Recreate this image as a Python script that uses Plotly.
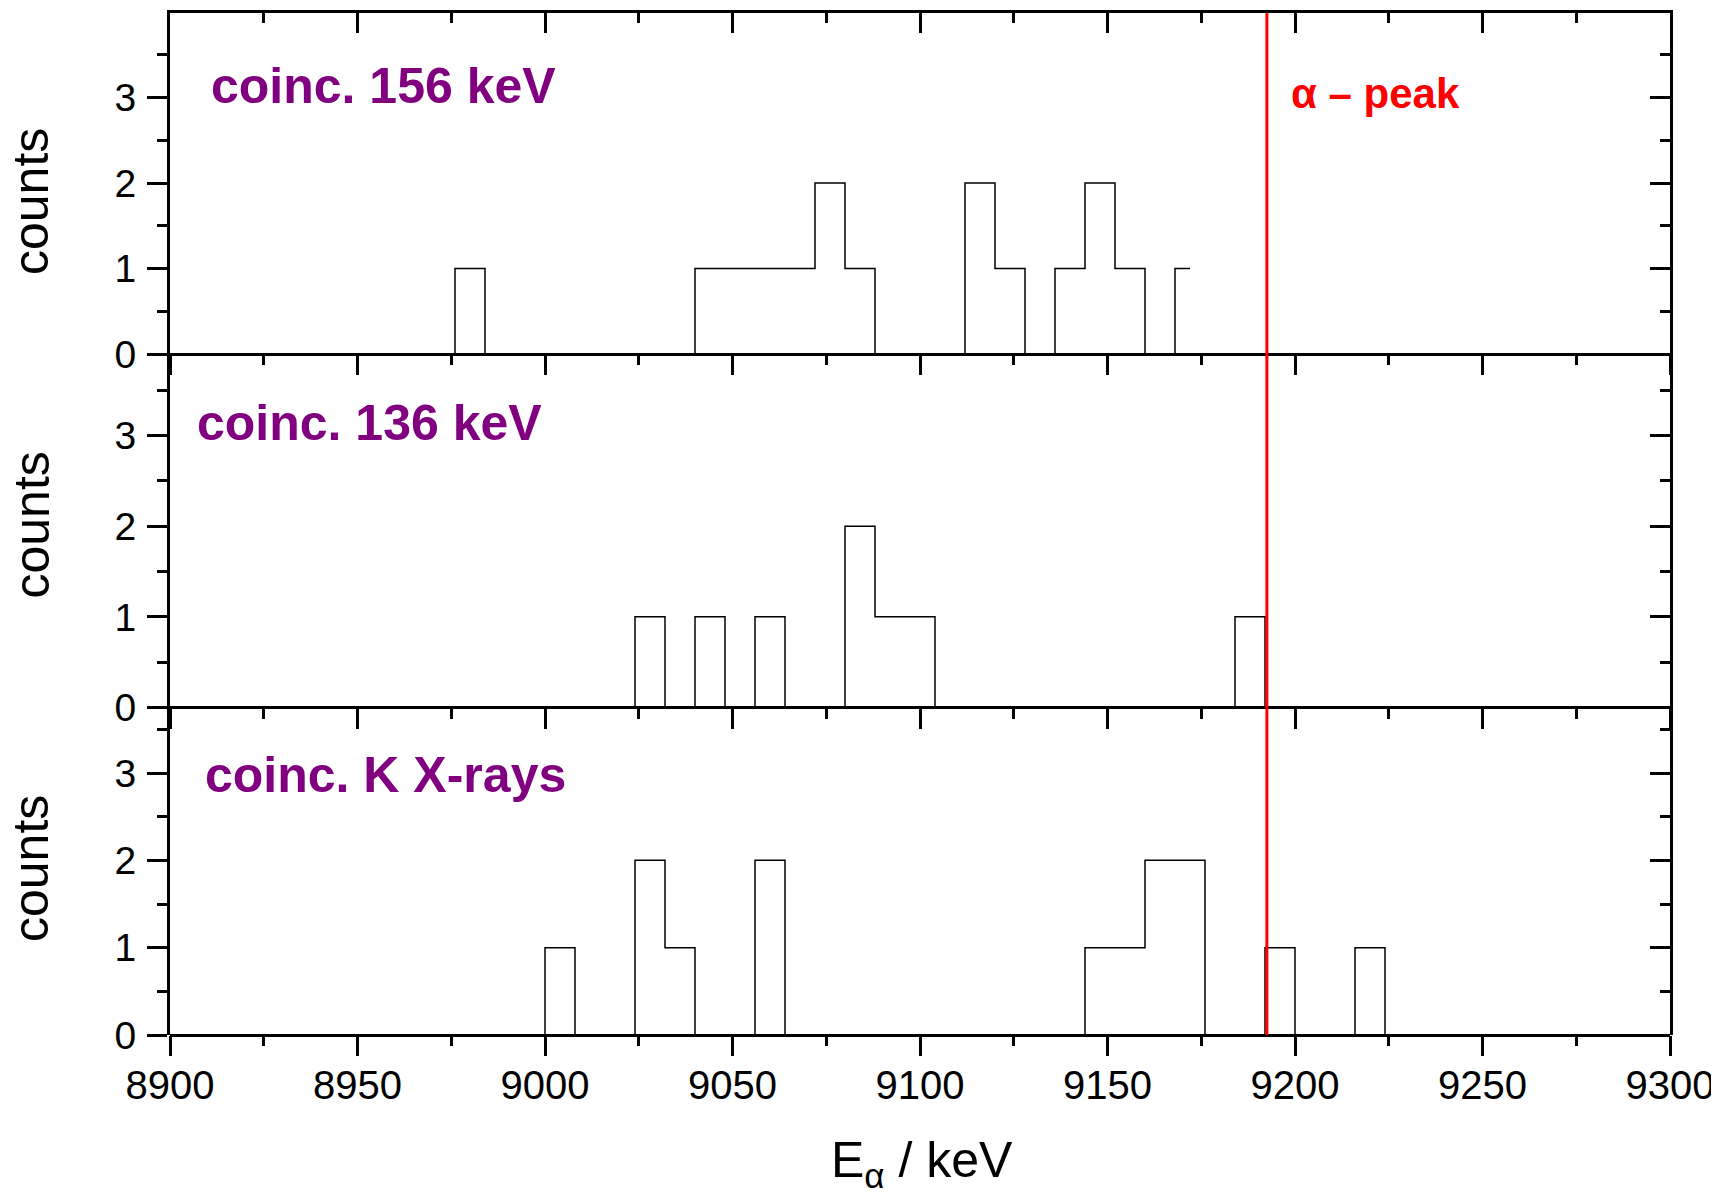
import plotly.graph_objects as go

# ---------------- data (bin centres in keV, counts per 8-keV bin) ----------------
E_156 = [8972, 8980, 8988, 8996, 9004, 9012, 9020, 9028, 9036, 9044, 9052, 9060, 9068,
         9076, 9084, 9092, 9100, 9108, 9116, 9124, 9132, 9140, 9148, 9156, 9164, 9172]
N_156 = [0, 1, 0, 0, 0, 0, 0, 0, 0, 1, 1, 1, 1,
         2, 1, 0, 0, 0, 2, 1, 0, 1, 2, 1, 0, 1]

E_136 = [9020, 9028, 9036, 9044, 9052, 9060, 9068, 9076, 9084, 9092, 9100, 9108,
         9116, 9124, 9132, 9140, 9148, 9156, 9164, 9172, 9180, 9188, 9196]
N_136 = [0, 1, 0, 1, 0, 1, 0, 0, 2, 1, 1, 0,
         0, 0, 0, 0, 0, 0, 0, 0, 0, 1, 0]

E_KX = [8996, 9004, 9012, 9020, 9028, 9036, 9044, 9052, 9060, 9068, 9076, 9084, 9092,
        9100, 9108, 9116, 9124, 9132, 9140, 9148, 9156, 9164, 9172, 9180, 9188, 9196,
        9204, 9212, 9220, 9228]
N_KX = [0, 1, 0, 0, 2, 1, 0, 0, 2, 0, 0, 0, 0,
        0, 0, 0, 0, 0, 0, 1, 1, 2, 2, 0, 0, 1,
        0, 0, 1, 0]

panel_labels = ["coinc. 156 keV", "coinc. 136 keV", "coinc. K X-rays"]
alpha_peak_E = 9192.5
x_ticks = [8900, 8950, 9000, 9050, 9100, 9150, 9200, 9250, 9300]
y_ticks = [0, 1, 2, 3]
y_tops = [3.99, 3.90, 3.75]

# ---------------- layout geometry ----------------
# the page body adds an 8 px offset; the figure is sized to end at the window edge
VW, VH = 1719, 1196
OFF = 8
W, H = VW - OFF, VH - OFF
PL, PR, PT, PB = 170, 1670, 13, 1035          # plot area in page pixels
L, R, T, B = PL - OFF, VW - PR, PT - OFF, VH - PB
PW, PH = PR - PL, PB - PT


def px(xp):
    return (xp - PL) / PW


def py(yp):
    return (PB - yp) / PH


bounds = [py(13), py(354), py(707.5), py(1035)]
domains = [[bounds[1], bounds[0]], [bounds[2], bounds[1]], [bounds[3], bounds[2]]]

FONT = "Liberation Sans, Arial, Helvetica, sans-serif"
PURPLE = "#800080"

fig = go.Figure()
series = [(E_156, N_156), (E_136, N_136), (E_KX, N_KX)]
for i, (xs, ys) in enumerate(series):
    sfx = "" if i == 0 else str(i + 1)
    fig.add_trace(go.Scatter(x=xs, y=ys, mode="lines",
                             line=dict(shape="hvh", color="black", width=1.5),
                             xaxis="x" + sfx, yaxis="y" + sfx, showlegend=False,
                             hoverinfo="skip"))
    # empty helper trace so that the right-hand mirror axis is rendered
    fig.add_trace(go.Scatter(x=[None], y=[None], mode="lines", xaxis="x" + sfx,
                             yaxis="y" + str(i + 4), showlegend=False, hoverinfo="skip"))
# helper for the top mirror axis
fig.add_trace(go.Scatter(x=[None], y=[None], mode="lines", xaxis="x4", yaxis="y",
                         showlegend=False, hoverinfo="skip"))

axis_common = dict(showgrid=False, zeroline=False, showline=True, linecolor="black",
                   linewidth=3, tickcolor="black", tickwidth=3, ticklen=20)

layout = dict(width=W, height=H, margin=dict(l=L, r=R, t=T, b=B),
              paper_bgcolor="white", plot_bgcolor="white", showlegend=False)

for i in range(3):
    sfx = "" if i == 0 else str(i + 1)
    xa = dict(axis_common, showline=False, domain=[0, 1],
              range=[x_ticks[0], x_ticks[-1]],
              tickvals=x_ticks, ticks="outside", anchor="y" + sfx,
              showticklabels=(i == 2), ticklabelstandoff=-5,
              tickfont=dict(family=FONT, size=40, color="black"),
              minor=dict(dtick=25, ticklen=10, tickwidth=3, tickcolor="black",
                         ticks="outside"))
    if i > 0:
        xa["matches"] = "x"
    ya = dict(axis_common, domain=[domains[i][0], domains[i][1]], range=[0, y_tops[i]],
              tickvals=y_ticks, ticks="outside", anchor="x" + sfx, ticklabelstandoff=3,
              zeroline=True, zerolinecolor="black", zerolinewidth=3,
              tickfont=dict(family=FONT, size=39, color="black"),
              minor=dict(dtick=0.5, ticklen=10, tickwidth=3, tickcolor="black",
                         ticks="outside"))
    layout["xaxis" + sfx] = xa
    layout["yaxis" + sfx] = ya
    # right-hand mirror axis with inward ticks
    layout["yaxis" + str(i + 4)] = dict(axis_common, overlaying="y" + sfx, side="right",
                                        anchor="x" + sfx, range=[0, y_tops[i]],
                                        tickvals=y_ticks, ticks="inside",
                                        showticklabels=False,
                                        minor=dict(dtick=0.5, ticklen=10, tickwidth=3,
                                                   tickcolor="black", ticks="inside"))

# top mirror axis of the upper panel with inward ticks
layout["xaxis4"] = dict(axis_common, overlaying="x", side="top", anchor="y",
                        range=[x_ticks[0], x_ticks[-1]], tickvals=x_ticks, ticks="inside",
                        showticklabels=False,
                        minor=dict(dtick=25, ticklen=10, tickwidth=3, tickcolor="black",
                                   ticks="inside"))

fig.update_layout(**layout)

# alpha-peak marker line across all panels
fig.add_shape(type="line", xref="x", yref="paper", x0=alpha_peak_E, x1=alpha_peak_E,
              y0=0, y1=1, line=dict(color="#ff0000", width=3), layer="above")

# panel labels
label_pos = [(209, 86.5), (195, 423), (203, 775)]
for (lx, ly), txt in zip(label_pos, panel_labels):
    fig.add_annotation(xref="paper", yref="paper", x=px(lx), y=py(ly), text=txt,
                       showarrow=False, xanchor="left", yanchor="middle",
                       font=dict(family=FONT, size=50, color=PURPLE, weight="bold"))

fig.add_annotation(xref="paper", yref="paper", x=px(1289), y=py(93),
                   text="\u03b1 \u2013 peak", showarrow=False, xanchor="left",
                   yanchor="middle", font=dict(family=FONT, size=42, color="#ff0000",
                                               weight="bold"))

# y-axis titles
for yc in [202, 525.5, 869]:
    fig.add_annotation(xref="paper", yref="paper", x=px(31), y=py(yc), text="counts",
                       textangle=-90, showarrow=False, xanchor="center",
                       yanchor="middle", font=dict(family=FONT, size=50, color="black"))

# x-axis title
fig.add_annotation(xref="paper", yref="paper", x=px(922), y=py(1163),
                   text="E<sub>\u03b1</sub> / keV", showarrow=False, xanchor="center",
                   yanchor="middle", font=dict(family=FONT, size=50, color="black"))

fig.write_html("out.html")
